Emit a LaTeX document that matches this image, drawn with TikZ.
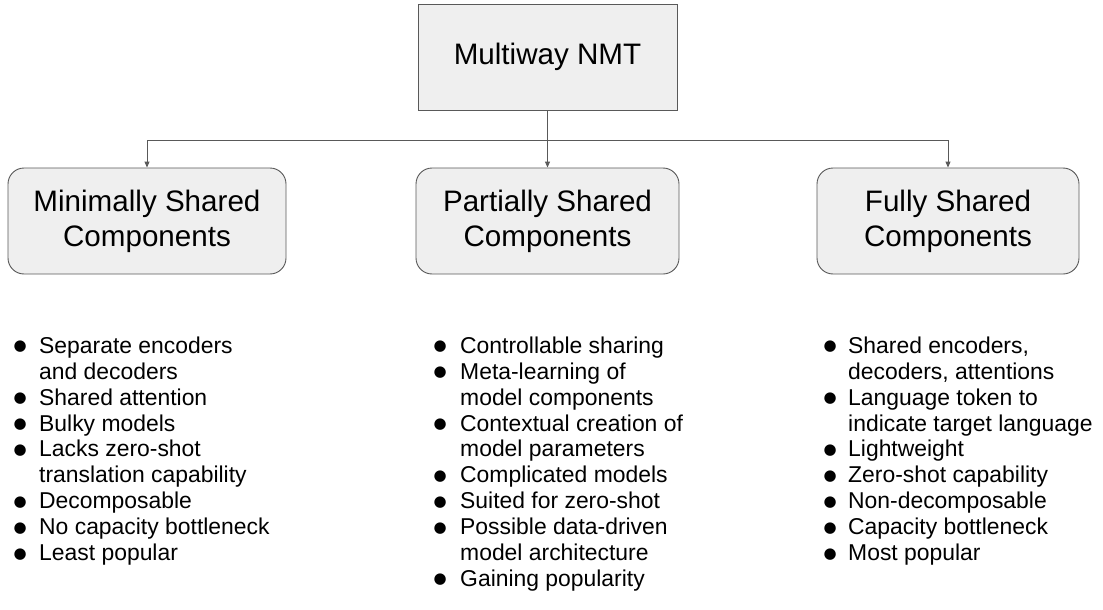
\documentclass[tikz,border=0pt]{standalone}
\usepackage{fontspec}
\setmainfont{Liberation Sans}
\newfontfamily\bulfont{DejaVu Sans}
\usetikzlibrary{arrows.meta}
\definecolor{boxfill}{HTML}{EFEFEF}
\definecolor{edge}{HTML}{595959}
\newcommand{\bul}{\makebox[10pt][c]{\raisebox{2.5pt}{\bulfont\fontsize{15}{15}\selectfont ●}}}
\tikzset{
  topbox/.style={draw=edge, line width=0.9pt, fill=boxfill, minimum width=259pt, minimum height=106pt, inner sep=0pt, align=center, font=\fontsize{29.6}{35}\selectfont},
  catbox/.style={draw=edge, line width=0.9pt, fill=boxfill, rounded corners=16pt, minimum height=106pt, inner sep=0pt, align=center, font=\fontsize{29.6}{35}\selectfont},
  conn/.style={draw=edge, line width=0.9pt},
  arr/.style={conn, -{Triangle[width=5pt,length=6pt]}},
  blist/.style={anchor=north west, inner sep=0pt, align=left, font=\fontsize{22.9}{25.9}\selectfont}
}
\begin{document}
\begin{tikzpicture}[x=1pt,y=-1pt]
\useasboundingbox (0,0) rectangle (1103,610);
\node[topbox] (top) at (547.5,57) {Multiway NMT};
\node[catbox, minimum width=278pt] (left) at (147,221) {Minimally Shared\\Components};
\node[catbox, minimum width=263pt] (mid) at (547.5,221) {Partially Shared\\Components};
\node[catbox, minimum width=262pt] (right) at (948,221) {Fully Shared\\Components};
\draw[conn] (top.south) -- ++(0,30) coordinate (j);
\draw[arr] (j) -- (mid.north);
\draw[arr] (j) -| (left.north);
\draw[arr] (j) -| (right.north);
\node[blist] (l1) at (15,335) {\begin{tabular}{@{}c@{\hspace{14pt}}l@{}}
\bul & Separate encoders\\
 & and decoders\\
\bul & Shared attention\\
\bul & Bulky models\\
\bul & Lacks zero-shot\\
 & translation capability\\
\bul & Decomposable\\
\bul & No capacity bottleneck\\
\bul & Least popular
\end{tabular}};
\node[blist] (l2) at (435,335) {\begin{tabular}{@{}c@{\hspace{15pt}}l@{}}
\bul & Controllable sharing\\
\bul & Meta-learning of\\
 & model components\\
\bul & Contextual creation of\\
 & model parameters\\
\bul & Complicated models\\
\bul & Suited for zero-shot\\
\bul & Possible data-driven\\
 & model architecture\\
\bul & Gaining popularity
\end{tabular}};
\node[blist] (l3) at (825,335) {\begin{tabular}{@{}c@{\hspace{13pt}}l@{}}
\bul & Shared encoders,\\
 & decoders, attentions\\
\bul & Language token to\\
 & indicate target language\\
\bul & Lightweight\\
\bul & Zero-shot capability\\
\bul & Non-decomposable\\
\bul & Capacity bottleneck\\
\bul & Most popular
\end{tabular}};
\end{tikzpicture}
\end{document}
